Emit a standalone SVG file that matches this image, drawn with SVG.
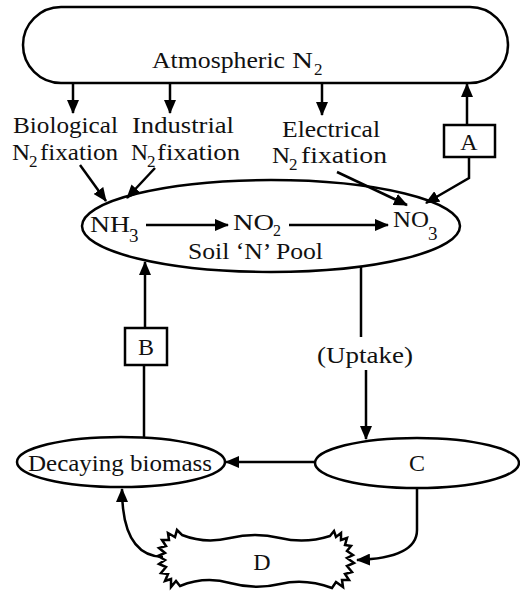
<svg xmlns="http://www.w3.org/2000/svg" width="520" height="591" viewBox="0 0 520 591">
<defs>
<style>
.t{font-family:"Liberation Serif","Times New Roman",serif;font-size:24px;fill:#111}
.s{font-family:"Liberation Serif","Times New Roman",serif;font-size:17px;fill:#111}
.shape{fill:#fff;stroke:#000;stroke-width:2.5}
.ln{fill:none;stroke:#000;stroke-width:2.5}
.arr{fill:none;stroke:#000;stroke-width:2.5;marker-end:url(#ah)}
</style>
<marker id="ah" markerUnits="userSpaceOnUse" markerWidth="14" markerHeight="12" refX="13" refY="6" orient="auto">
<path d="M0,0 L14,6 L0,12 Z" fill="#000"/>
</marker>
</defs>
<rect width="520" height="591" fill="#fff"/>

<g id="atmospheric">
<rect class="shape" x="23" y="7" width="485" height="76" rx="38" ry="38"/>
<text class="t" x="152" y="68" textLength="133" lengthAdjust="spacingAndGlyphs">Atmospheric</text>
<text class="t" x="292" y="68" textLength="21" lengthAdjust="spacingAndGlyphs">N</text>
<text class="s" x="314" y="75">2</text>
</g>

<g id="biological">
<text class="t" x="13" y="133" textLength="105" lengthAdjust="spacingAndGlyphs">Biological</text>
<text class="t" x="12" y="160" textLength="18" lengthAdjust="spacingAndGlyphs">N</text>
<text class="s" x="29" y="167">2</text>
<text class="t" x="40" y="160" textLength="78" lengthAdjust="spacingAndGlyphs">fixation</text>
</g>

<g id="industrial">
<text class="t" x="132" y="133" textLength="102" lengthAdjust="spacingAndGlyphs">Industrial</text>
<text class="t" x="131" y="160" textLength="17" lengthAdjust="spacingAndGlyphs">N</text>
<text class="s" x="147" y="167">2</text>
<text class="t" x="157" y="160" textLength="83" lengthAdjust="spacingAndGlyphs">fixation</text>
</g>

<g id="electrical">
<text class="t" x="282" y="137" textLength="98" lengthAdjust="spacingAndGlyphs">Electrical</text>
<text class="t" x="272" y="163" textLength="18" lengthAdjust="spacingAndGlyphs">N</text>
<text class="s" x="289" y="170">2</text>
<text class="t" x="301" y="163" textLength="86" lengthAdjust="spacingAndGlyphs">fixation</text>
</g>

<g id="A">
<rect class="shape" x="444" y="125" width="51" height="32"/>
<text class="t" x="469" y="150" text-anchor="middle">A</text>
</g>

<g id="soil">
<ellipse class="shape" cx="271" cy="226" rx="189" ry="46"/>
<text class="t" x="90" y="232" textLength="40" lengthAdjust="spacingAndGlyphs">NH</text>
<text class="s" x="129" y="242" style="font-size:19px">3</text>
<text class="t" x="233" y="230" textLength="41" lengthAdjust="spacingAndGlyphs">NO</text>
<text class="s" x="273" y="236" style="font-size:16px">2</text>
<text class="t" x="393" y="227" textLength="36" lengthAdjust="spacingAndGlyphs">NO</text>
<text class="s" x="428" y="240" style="font-size:19px">3</text>
<text class="t" x="188" y="259" textLength="135" lengthAdjust="spacingAndGlyphs">Soil ‘N’ Pool</text>
</g>

<g id="B">
<rect class="shape" x="125" y="328" width="42" height="37"/>
<text class="t" x="146" y="355" text-anchor="middle">B</text>
</g>

<g id="uptake">
<text class="t" x="317" y="363" textLength="96" lengthAdjust="spacingAndGlyphs">(Uptake)</text>
</g>

<g id="C">
<ellipse class="shape" cx="417" cy="463" rx="102" ry="25"/>
<text class="t" x="417" y="471" text-anchor="middle">C</text>
</g>

<g id="decaying">
<ellipse class="shape" cx="121" cy="462" rx="104" ry="25"/>
<text class="t" x="28" y="471" textLength="184" lengthAdjust="spacingAndGlyphs">Decaying biomass</text>
</g>

<g id="D">
<path class="shape" stroke-linejoin="miter" d="M182,535 Q205,544 230,538 Q255,532 280,538 Q305,544 330,536 L334,531 L336,537 L341,533 L341,540 L347,538 L345,545 L351,546 L347,551 L353,555 L347,558 L354,563 L347,566 L352,572 L345,574 L349,580 L342,580 L343,587 L336,582 L332,588 Q305,578 280,584 Q255,590 230,583 Q205,576 180,586 L176,581 L171,587 L171,579 L165,581 L168,574 L161,573 L166,567 L159,564 L165,560 L158,556 L165,553 L159,548 L166,546 L162,540 L169,540 L168,533 L175,537 L177,530 Z"/>
<text class="t" x="262" y="570" text-anchor="middle">D</text>
</g>

<g id="connectors">
<line class="arr" x1="73" y1="84" x2="73" y2="113"/>
<line class="arr" x1="170" y1="84" x2="170" y2="113"/>
<line class="arr" x1="322" y1="84" x2="322" y2="115"/>
<line class="arr" x1="467" y1="125" x2="467" y2="84"/>
<line class="arr" x1="80" y1="165" x2="106" y2="201"/>
<line class="arr" x1="155" y1="168" x2="127" y2="198"/>
<line class="arr" x1="337" y1="172" x2="407" y2="205"/>
<polyline class="arr" points="469,157 469,178 426,203"/>
<line class="arr" x1="146" y1="225" x2="228" y2="225"/>
<line class="arr" x1="289" y1="225" x2="388" y2="225"/>
<line class="arr" x1="145" y1="328" x2="145" y2="262"/>
<line class="ln" x1="144" y1="365" x2="144" y2="437"/>
<line class="ln" x1="361" y1="267" x2="361" y2="337"/>
<line class="arr" x1="366" y1="370" x2="366" y2="439"/>
<line class="arr" x1="315" y1="462" x2="226" y2="462"/>
<path class="arr" d="M417,488 L417,530 Q417,558 357,560"/>
<path class="arr" d="M163,557 Q122,556 122,489"/>
</g>
</svg>
